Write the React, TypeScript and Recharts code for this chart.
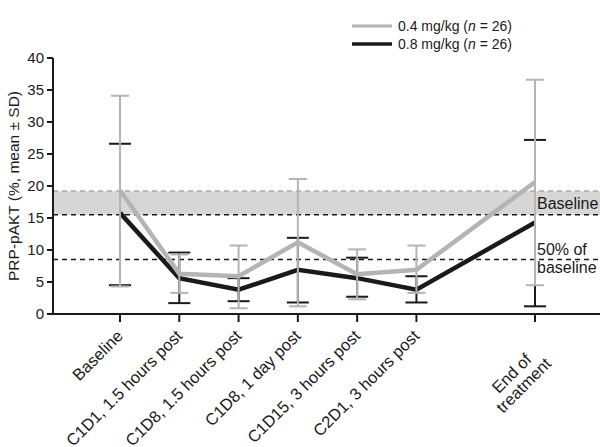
import { LineChart, Line, XAxis, YAxis, ErrorBar, ReferenceArea, ReferenceLine, Legend } from 'recharts';

// time points; the empty slot leaves the gap before end of treatment
const timepoints = [
  'Baseline',
  'C1D1, 1.5 hours post',
  'C1D8, 1.5 hours post',
  'C1D8, 1 day post',
  'C1D15, 3 hours post',
  'C2D1, 3 hours post',
  '',
  'End of\ntreatment',
];

// 0.4 mg/kg
const lowMean = [19.3, 6.3, 5.9, 11.2, 6.2, 6.9, null, 20.6];
const lowMin = [4.3, 3.3, 0.9, 1.2, 2.3, 3.3, null, 4.5];
const lowMax = [34.1, 9.3, 10.7, 21.1, 10.1, 10.7, null, 36.6];

// 0.8 mg/kg
const highMean = [15.8, 5.6, 3.8, 6.9, 5.6, 3.8, null, 14.3];
const highMin = [4.5, 1.7, 2.0, 1.8, 2.7, 1.8, null, 1.2];
const highMax = [26.6, 9.6, 5.6, 11.9, 8.8, 5.9, null, 27.2];

const yTicks = [0, 5, 10, 15, 20, 25, 30, 35, 40];
const baselineBand = [15.5, 19.2];
const halfBaseline = 8.5;

const FONT = '"Liberation Sans", Arial, sans-serif';
const GRAY = '#b4b4b4';
const BLACK = '#1a1a1a';
const TEXT = '#1a1a1a';
const PAD_L = 67;
const PAD_R = 65;

const data = timepoints.map((t, i) => ({
  t,
  low: lowMean[i],
  lowErr: lowMean[i] == null ? null : [lowMean[i]! - lowMin[i]!, lowMax[i]! - lowMean[i]!],
  high: highMean[i],
  highErr: highMean[i] == null ? null : [highMean[i]! - highMin[i]!, highMax[i]! - highMean[i]!],
}));

function XTick({ x, y, payload }: any) {
  if (!payload.value) return null;
  const lines = String(payload.value).split('\n');
  return (
    <g transform={`translate(${x},${y})`}>
      <line x1={0} y1={0} x2={0} y2={8} stroke={BLACK} strokeWidth={2} />
      <text transform="translate(4,23) rotate(-45)" fontSize={16.5} fontFamily={FONT} fill={TEXT}>
        {lines.length === 1 ? (
          <tspan x={0} y={0} textAnchor="end">{lines[0]}</tspan>
        ) : (
          lines.map((l, i) => (
            <tspan key={i} x={-45} y={12 + i * 17} textAnchor="middle">{l}</tspan>
          ))
        )}
      </text>
    </g>
  );
}

function LegendBox() {
  const items = [
    { color: GRAY, w: 3, label: '0.4 mg/kg' },
    { color: BLACK, w: 3.5, label: '0.8 mg/kg' },
  ];
  return (
    <svg width={250} height={40}>
      {items.map((it, i) => (
        <g key={i} transform={`translate(0,${i * 18 + 10})`}>
          <line x1={0} x2={40} y1={0} y2={0} stroke={it.color} strokeWidth={it.w} />
          <text x={46} y={5} fontSize={14} fontFamily={FONT} fill={TEXT}>
            {it.label}{'  ('}<tspan fontStyle="italic">n</tspan>{' = 26)'}
          </text>
        </g>
      ))}
    </svg>
  );
}

// band stretches across the whole plot, including the axis padding
function Band(p: any) {
  return <rect x={p.x - PAD_L} y={p.y} width={p.width + PAD_L + PAD_R} height={p.height} fill="#d6d6d6" />;
}

export default function App() {
  return (
    <div style={{ position: 'absolute', left: 0, top: 0, width: 600, height: 447, background: '#fff' }}>
      <LineChart width={600} height={447} data={data} margin={{ top: 58, right: 0, bottom: 0, left: 0 }}>
        <ReferenceArea y1={baselineBand[0]} y2={baselineBand[1]} shape={<Band />} />
        <ReferenceLine y={baselineBand[1]} stroke="#a8a8a8" strokeDasharray="5 4" strokeWidth={1.5} />
        <ReferenceLine
          y={baselineBand[0]}
          stroke={BLACK}
          strokeDasharray="5 4"
          strokeWidth={1.5}
          label={(p: any) => (
            <text x={p.viewBox.x + p.viewBox.width - 63} y={p.viewBox.y - 6} fontSize={16} fontFamily={FONT} fill={TEXT}>
              Baseline
            </text>
          )}
        />
        <ReferenceLine
          y={halfBaseline}
          stroke={BLACK}
          strokeDasharray="5 4"
          strokeWidth={1.5}
          label={(p: any) => (
            <text x={p.viewBox.x + p.viewBox.width - 63} y={p.viewBox.y} fontSize={16} fontFamily={FONT} fill={TEXT}>
              <tspan x={p.viewBox.x + p.viewBox.width - 63} dy={-5}>50% of</tspan>
              <tspan x={p.viewBox.x + p.viewBox.width - 63} dy={18}>baseline</tspan>
            </text>
          )}
        />
        <XAxis
          dataKey="t"
          type="category"
          interval={0}
          height={133}
          padding={{ left: PAD_L, right: PAD_R }}
          axisLine={{ stroke: BLACK, strokeWidth: 2 }}
          tickLine={false}
          tickSize={0}
          tickMargin={0}
          tick={<XTick />}
        />
        <YAxis
          width={53}
          domain={[0, 40]}
          ticks={yTicks}
          interval={0}
          axisLine={{ stroke: BLACK, strokeWidth: 2 }}
          tickLine={{ stroke: BLACK, strokeWidth: 2 }}
          tickSize={6}
          tickMargin={3}
          tick={{ fontSize: 15, fontFamily: FONT, fill: TEXT }}
          label={(p: any) => (
            <text
              transform={`translate(19,${p.viewBox.y + p.viewBox.height / 2}) rotate(-90)`}
              textAnchor="middle"
              fontSize={15.5}
              fontFamily={FONT}
              fill={TEXT}
            >
              PRP-pAKT (%, mean ± SD)
            </text>
          )}
        />
        <Legend
          verticalAlign="middle"
          align="center"
          content={() => <LegendBox />}
          wrapperStyle={{ top: 16, left: 352, width: 250, height: 40 }}
        />
        <Line
          dataKey="high"
          stroke={BLACK}
          strokeWidth={4.5}
          dot={false}
          activeDot={false}
          connectNulls
          isAnimationActive={false}
          strokeLinejoin="miter"
        >
          <ErrorBar dataKey="highErr" direction="y" width={11} stroke={BLACK} strokeWidth={2} />
        </Line>
        <Line
          dataKey="low"
          stroke={GRAY}
          strokeWidth={4.5}
          dot={false}
          activeDot={false}
          connectNulls
          isAnimationActive={false}
          strokeLinejoin="miter"
        >
          <ErrorBar dataKey="lowErr" direction="y" width={9} stroke={GRAY} strokeWidth={2} />
        </Line>
      </LineChart>
    </div>
  );
}
